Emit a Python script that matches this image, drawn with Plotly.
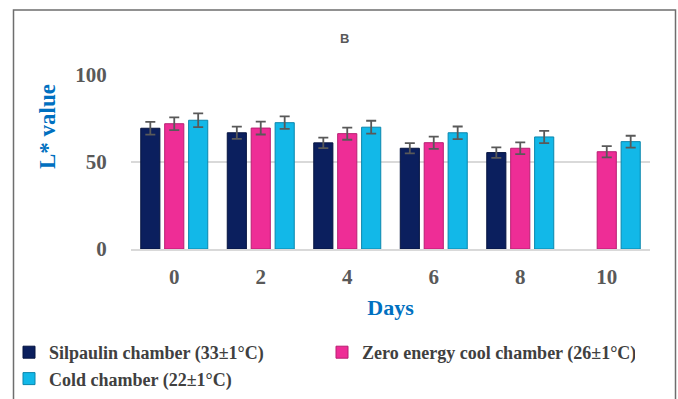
import plotly.graph_objects as go

days = ["0", "2", "4", "6", "8", "10"]
silpaulin = [69.4, 66.8, 61.0, 57.9, 55.4, None]
silpaulin_err = [3.7, 3.5, 3.0, 3.0, 3.0, None]
zecc = [72.0, 69.5, 66.3, 61.1, 57.9, 55.9]
zecc_err = [3.7, 3.7, 3.5, 3.5, 3.4, 3.2]
cold = [74.0, 72.6, 70.0, 66.8, 64.4, 61.7]
cold_err = [4.0, 3.6, 3.7, 3.6, 3.5, 3.4]

names = ["Silpaulin chamber (33±1°C)", "Zero energy cool chamber (26±1°C)", "Cold chamber (22±1°C)"]
colors = ["#0B1F5E", "#EE2D96", "#12B8E8"]
lines = ["#061440", "#B81F72", "#0A86AD"]

serif = "Times New Roman, Liberation Serif, serif"

fig = go.Figure()
for n, v, e, c, lc in zip(names, [silpaulin, zecc, cold], [silpaulin_err, zecc_err, cold_err], colors, lines):
    fig.add_trace(go.Bar(
        x=days, y=v, name="<b>" + n + "</b>",
        marker=dict(color=c, line=dict(color=lc, width=1)),
        error_y=dict(type="data", array=e, visible=True, color="#595959", thickness=1.8, width=5),
    ))

L, R, T, B = 131, 28, 75, 150
W, H = 678, 399
pw, ph = W - L - R, H - T - B

def px(p):
    return (p - L) / pw

def py(q):
    return (H - B - q) / ph

fig.update_layout(
    width=W, height=H,
    font=dict(family=serif, color="#404040"),
    margin=dict(l=L, r=R, t=T, b=B, autoexpand=False),
    paper_bgcolor="white", plot_bgcolor="white",
    barmode="group", bargap=0.17, bargroupgap=0.2,
    showlegend=True,
    legend=dict(
        orientation="h", x=px(9), y=py(334), xanchor="left", yanchor="top",
        entrywidth=268, entrywidthmode="pixels", itemwidth=30,
        font=dict(family=serif, size=18, color="#404040"),
        tracegroupgap=0, traceorder="normal", bgcolor="rgba(0,0,0,0)",
    ),
    xaxis=dict(
        tickfont=dict(family=serif, size=21, color="#595959", weight="bold"),
        showline=True, linecolor="#D9D9D9", linewidth=1.5,
        ticks="outside", ticklen=8, tickcolor="rgba(0,0,0,0)",
        title=dict(text="Days", font=dict(family=serif, size=22, color="#0070C0", weight="bold"), standoff=12),
    ),
    yaxis=dict(
        range=[0, 100], tickvals=[0, 50, 100],
        tickfont=dict(family=serif, size=21, color="#595959", weight="bold"),
        showgrid=True, gridcolor="#D9D9D9", gridwidth=1.5, zeroline=False,
        ticks="outside", ticklen=19, tickcolor="rgba(0,0,0,0)",
    ),
    shapes=[dict(type="rect", xref="paper", yref="paper",
                 x0=px(13.5), x1=px(675.5), y0=py(410), y1=py(10),
                 line=dict(color="#6E6E6E", width=1.5), layer="above")],
    annotations=[
        dict(text="B", x=px(344.5), y=py(38), xref="paper", yref="paper", showarrow=False,
             xanchor="center", yanchor="middle",
             font=dict(family="Liberation Sans", size=13, color="#595959", weight="bold")),
        dict(text="L* value", x=px(47), y=py(127), xref="paper", yref="paper", showarrow=False,
             xanchor="center", yanchor="middle", textangle=-90,
             font=dict(family=serif, size=23, color="#0070C0", weight="bold")),
    ],
)

fig.write_html("out.html")
